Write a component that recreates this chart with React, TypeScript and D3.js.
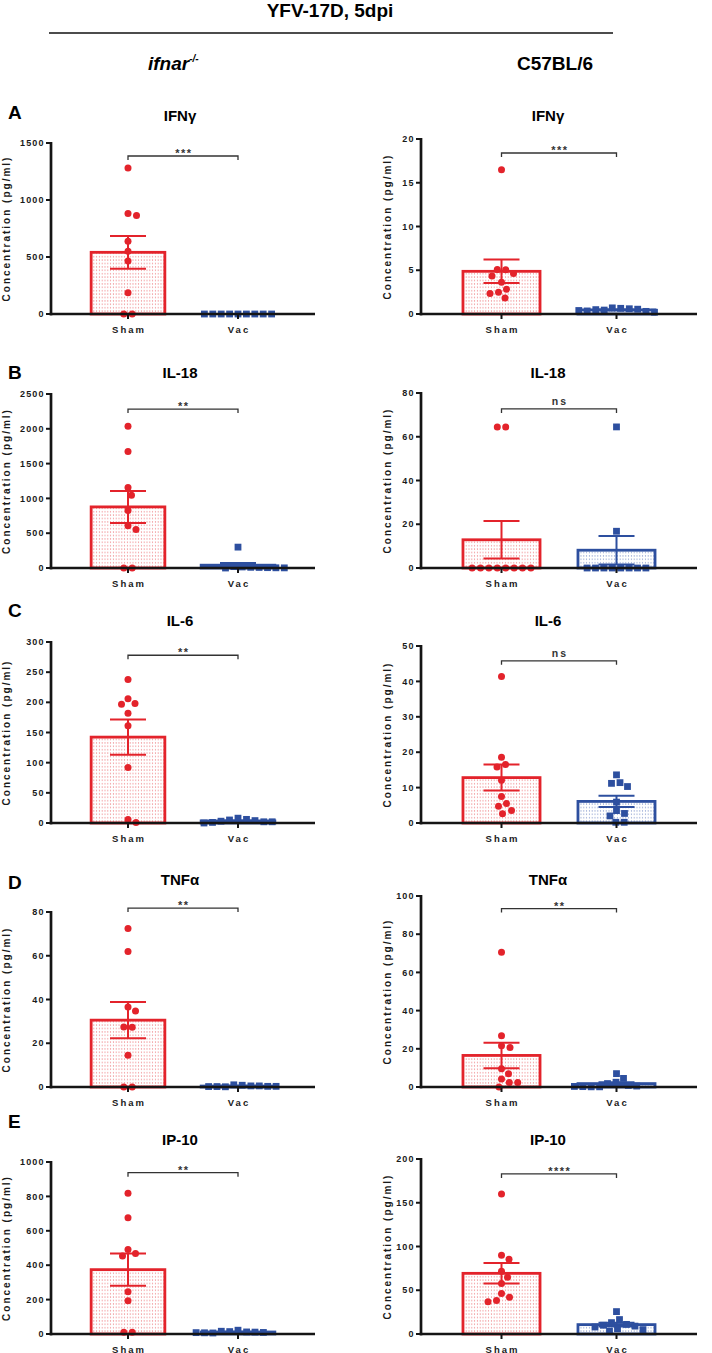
import * as d3 from 'd3';

const groups = ['Sham', 'Vac'];
const panelLetters = ['A', 'B', 'C', 'D', 'E'];
const cytokines = ['IFNγ', 'IL-18', 'IL-6', 'TNFα', 'IP-10'];

// ifnar-/- mice, one row per cytokine
const ifnarSham = [
  [1280, 882, 864, 639, 551, 466, 187, 0, 0],
  [2036, 1673, 1157, 1047, 827, 607, 554, 0, 0],
  [238, 206, 198, 197, 182, 161, 92, 6, 1],
  [72.5, 61.9, 36.6, 34.8, 27.4, 27.3, 14.5, 0, 0],
  [819, 676, 491, 468, 454, 246, 193, 10, 10],
];
const ifnarVac = [
  [0, 0, 0, 0, 0, 0, 0, 0, 0],
  [300, 20, 15, 10, 8, 5, 3, 2, 0],
  [8, 5, 3, 2, 1, 0, 2, 4, 6],
  [0.8, 0.5, 0.3, 0.2, 0.1, 0.2, 0.3, 0.5, 1.0],
  [22, 16, 12, 9, 7, 6, 8, 11, 14],
];

// C57BL/6 mice
const b6Sham = [
  [16.5, 5.1, 5.05, 4.64, 4.33, 3.64, 2.84, 2.49, 2.34, 1.84],
  [64.5, 64.5, 0, 0, 0, 0, 0, 0, 0, 0],
  [41.4, 18.6, 16.5, 15.8, 12.1, 7.5, 5.5, 4.7, 3.5, 2.6],
  [70.6, 26.8, 21.6, 20.7, 9.6, 7.0, 4.2, 2.4, 2.4, 0],
  [159.9, 90.1, 85.5, 71.8, 64.9, 57.6, 46.2, 42, 38.2, 37],
];
const b6Vac = [
  [0.7, 0.65, 0.6, 0.55, 0.5, 0.45, 0.4, 0.35, 0.3, 0.2],
  [64.5, 16.8, 0, 0, 0, 0, 0, 0, 0, 0],
  [13.6, 11.4, 11.2, 10.3, 5.9, 3.5, 2.7, 2.0, 0.2, 0.2],
  [7.0, 4.5, 2.5, 1.8, 0.8, 0.5, 0.3, 0.2, 0.1, 0.1],
  [25.6, 16.5, 13, 11, 10, 9, 8, 6, 5, 3],
];

const ifnarYMax = [1500, 2500, 300, 80, 1000];
const ifnarYStep = [500, 500, 50, 20, 200];
const b6YMax = [20, 80, 50, 100, 200];
const b6YStep = [5, 20, 10, 20, 50];

const ifnarSig = ['***', '**', '**', '**', '**'];
const b6Sig = ['***', 'ns', 'ns', '**', '****'];
const ifnarSigLevel = [1386, 2284, 278, 81.8, 938];
const b6SigLevel = [18.4, 72.7, 45.8, 93.4, 183];

// page layout
const W = 712;
const H = 1353;
const FONT = '"Liberation Sans", Arial, Helvetica, sans-serif';
const RED = '#e3232b';
const BLUE = '#2d4f9f';
const cols = [
  { x0: 51, x1: 315, titleX: 180, labelX: 9.5 },
  { x0: 421, x1: 697, titleX: 548, labelX: 391 },
];
const rows = [
  { letterY: 119, titleY: 121, top: [143, 139], bottom: 314 },
  { letterY: 379, titleY: 378, top: [394, 393], bottom: 568 },
  { letterY: 617, titleY: 626, top: [642, 646], bottom: 823 },
  { letterY: 889, titleY: 885, top: [912, 896], bottom: 1087 },
  { letterY: 1128, titleY: 1145, top: [1162, 1159], bottom: 1334 },
];

type Pt = { v: number; py: number; px: number };

// simple Prism-like scatter: equal values side by side, others pushed aside
function swarm(values: number[], y: (v: number) => number, d: number): Pt[] {
  const pts: Pt[] = values.map((v) => ({ v, py: y(v), px: 0 }));
  const sorted = [...pts].sort((a, b) => a.py - b.py);
  const placed: Pt[] = [];
  let i = 0;
  while (i < sorted.length) {
    let j = i;
    while (j + 1 < sorted.length && Math.abs(sorted[j + 1].py - sorted[i].py) < 0.6) j++;
    const grp = sorted.slice(i, j + 1);
    const n = grp.length;
    for (let k = 0; k < 600; k++) {
      const s = k === 0 ? 0 : (k % 2 ? 1 : -1) * Math.ceil(k / 2) * 0.5;
      const ok = grp.every((p, gi) => {
        const px = (gi - (n - 1) / 2) * d + s;
        return placed.every((q) => Math.hypot(px - q.px, p.py - q.py) >= d - 0.01);
      });
      if (ok) {
        grp.forEach((p, gi) => {
          p.px = (gi - (n - 1) / 2) * d + s;
          placed.push(p);
        });
        break;
      }
    }
    i = j + 1;
  }
  return pts;
}

interface PanelProps {
  col: number;
  row: number;
  sham: number[];
  vac: number[];
  yMax: number;
  yStep: number;
  sig: string;
  sigLevel: number;
}

function Panel({ col, row, sham, vac, yMax, yStep, sig, sigLevel }: PanelProps) {
  const c = cols[col];
  const r = rows[row];
  const y = d3.scaleLinear().domain([0, yMax]).range([r.bottom, r.top[col]]);
  const x = d3.scalePoint<string>().domain(groups).range([c.x0, c.x1]).padding(0.7);
  const barW = x.step() * 0.67;
  const ticks = d3.range(0, yMax + yStep / 2, yStep);
  const y0 = y(0);

  const series = [
    { name: 'Sham', values: sham, color: RED, pattern: 'url(#dotsRed)', shape: 'circle' },
    { name: 'Vac', values: vac, color: BLUE, pattern: 'url(#dotsBlue)', shape: 'square' },
  ];

  const xs = x('Sham')!;
  const xv = x('Vac')!;
  const yb = y(sigLevel);

  return (
    <g>
      <text x={c.titleX} y={r.titleY} textAnchor="middle" fontSize={15} fontWeight="bold">
        {cytokines[row]}
      </text>
      <text
        transform={`translate(${c.labelX},${(r.top[col] + r.bottom) / 2}) rotate(-90)`}
        textAnchor="middle"
        fontSize={10}
        fontWeight="bold"
        letterSpacing={2}
        fill="#1a1a1a"
      >
        Concentration (pg/ml)
      </text>

      {series.map((s) => {
        const m = d3.mean(s.values) ?? 0;
        const sem = (d3.deviation(s.values) ?? 0) / Math.sqrt(s.values.length);
        const cx = x(s.name)!;
        const pts = swarm(s.values, y, 8.4);
        return (
          <g key={s.name}>
            <rect
              x={cx - barW / 2}
              y={y(m)}
              width={barW}
              height={Math.max(0, y0 - y(m))}
              fill={s.pattern}
              stroke={s.color}
              strokeWidth={2.8}
            />
            <g stroke={s.color} strokeWidth={2}>
              <line x1={cx} x2={cx} y1={y(m - sem)} y2={y(m + sem)} />
              <line x1={cx - 18} x2={cx + 18} y1={y(m + sem)} y2={y(m + sem)} />
              <line x1={cx - 18} x2={cx + 18} y1={y(m - sem)} y2={y(m - sem)} />
            </g>
            {pts.map((p, i) =>
              s.shape === 'circle' ? (
                <circle key={i} cx={cx + p.px} cy={p.py} r={3.5} fill={s.color} />
              ) : (
                <rect key={i} x={cx + p.px - 3.4} y={p.py - 3.4} width={6.8} height={6.8} fill={s.color} />
              )
            )}
          </g>
        );
      })}

      {/* axes */}
      <g stroke="#151515" strokeWidth={2.7}>
        <line x1={c.x0} x2={c.x0} y1={y(yMax) - 1} y2={y0 + 1.35} />
        <line x1={c.x0 - 1.35} x2={c.x1} y1={y0} y2={y0} />
        {ticks.map((t) => (
          <line key={t} x1={c.x0 - 5} x2={c.x0} y1={y(t)} y2={y(t)} strokeWidth={2} />
        ))}
        {groups.map((g) => (
          <line key={g} x1={x(g)!} x2={x(g)!} y1={y0} y2={y0 + 5} strokeWidth={2} />
        ))}
      </g>
      {ticks.map((t) => (
        <text
          key={t}
          x={c.x0 - 6.5}
          y={y(t)}
          dy="0.35em"
          textAnchor="end"
          fontSize={9}
          fontWeight="bold"
          letterSpacing={1.1}
          fill="#1a1a1a"
        >
          {t}
        </text>
      ))}
      {groups.map((g) => (
        <text
          key={g}
          x={x(g)! + 1}
          y={y0 + 18.5}
          textAnchor="middle"
          fontSize={9.5}
          fontWeight="bold"
          letterSpacing={2}
          fill="#1a1a1a"
        >
          {g}
        </text>
      ))}

      {/* significance bracket */}
      <path d={`M${xs},${yb + 4}V${yb}H${xv}V${yb + 4}`} fill="none" stroke="#333" strokeWidth={1.3} />
      {sig === 'ns' ? (
        <text x={(xs + xv) / 2 + 1} y={yb - 4} textAnchor="middle" fontSize={10.5} fontWeight="bold" letterSpacing={2} fill="#333">
          ns
        </text>
      ) : (
        <text x={(xs + xv) / 2 + 0.8} y={yb + 1} textAnchor="middle" fontSize={11} fontWeight="bold" letterSpacing={1.5} fill="#333">
          {sig}
        </text>
      )}
    </g>
  );
}

export default function App() {
  return (
    <svg
      width={W}
      height={H}
      viewBox={`0 0 ${W} ${H}`}
      style={{ position: 'absolute', left: 0, top: 0, background: '#fff' }}
      fontFamily={FONT}
    >
      <defs>
        <pattern id="dotsRed" width={2.8} height={3.4} patternUnits="userSpaceOnUse">
          <rect width={2.8} height={3.4} fill="#fff" />
          <circle cx={1.4} cy={1.7} r={0.55} fill="#ec6a70" />
        </pattern>
        <pattern id="dotsBlue" width={2.8} height={3.4} patternUnits="userSpaceOnUse">
          <rect width={2.8} height={3.4} fill="#fff" />
          <circle cx={1.4} cy={1.7} r={0.55} fill="#6f86c4" />
        </pattern>
      </defs>
      <rect width={W} height={H} fill="#fff" />

      {/* header */}
      <text x={330} y={17} textAnchor="middle" fontSize={19} fontWeight="bold">
        YFV-17D, 5dpi
      </text>
      <line x1={49} x2={613} y1={33} y2={33} stroke="#111" strokeWidth={1.6} />
      <text x={148} y={70} fontSize={19} fontWeight="bold" fontStyle="italic">
        ifnar
        <tspan dy={-8} fontSize={10}>
          -/-
        </tspan>
      </text>
      <text x={517} y={70} fontSize={19} fontWeight="bold">
        C57BL/6
      </text>

      {panelLetters.map((l, i) => (
        <text key={l} x={8} y={rows[i].letterY} fontSize={19} fontWeight="bold">
          {l}
        </text>
      ))}

      {cytokines.map((_, i) => (
        <g key={i}>
          <Panel
            col={0}
            row={i}
            sham={ifnarSham[i]}
            vac={ifnarVac[i]}
            yMax={ifnarYMax[i]}
            yStep={ifnarYStep[i]}
            sig={ifnarSig[i]}
            sigLevel={ifnarSigLevel[i]}
          />
          <Panel
            col={1}
            row={i}
            sham={b6Sham[i]}
            vac={b6Vac[i]}
            yMax={b6YMax[i]}
            yStep={b6YStep[i]}
            sig={b6Sig[i]}
            sigLevel={b6SigLevel[i]}
          />
        </g>
      ))}
    </svg>
  );
}
